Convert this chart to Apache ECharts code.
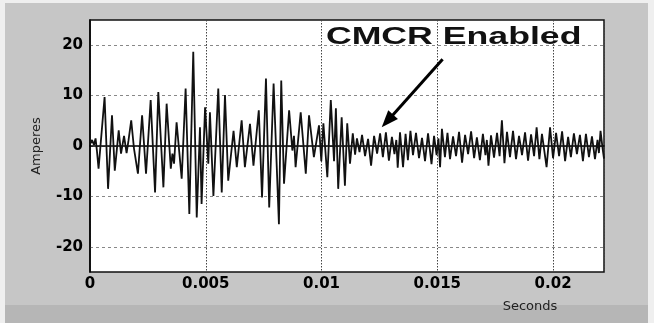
<!DOCTYPE html>
<html>
<head>
<meta charset="utf-8">
<script src="https://cdn.jsdelivr.net/npm/echarts@6/dist/echarts.min.js"></script>
<style>
  html, body { margin: 0; padding: 0; background: #c6c6c6; }
  #wrap { position: relative; width: 654px; height: 323px; background: #c6c6c6; overflow: hidden; }
  #wrap .edge { position: absolute; background: #efefef; }
  #wrap .band { position: absolute; left: 0; right: 0; top: 305px; bottom: 0; background: #b6b6b6; }
  #main { position: absolute; left: 0; top: 0; width: 654px; height: 323px; }
</style>
</head>
<body>
<div id="wrap">
  <div class="band"></div>
  <div class="edge" style="left:0;top:0;width:5px;height:323px"></div>
  <div class="edge" style="left:0;top:0;width:654px;height:3px"></div>
  <div class="edge" style="right:0;top:0;width:6px;height:323px"></div>
  <div id="main"></div>
</div>
<script>
// burst before CMCR kicks in (seconds / amperes, read peak by peak)
const timesBurst = [
  0, 0.00009, 0.00017, 0.00024, 0.00030, 0.00037, 0.00063, 0.00078, 0.00095, 0.00107,
  0.00124, 0.00134, 0.00147, 0.00158, 0.00166, 0.00178, 0.00190, 0.00207, 0.00225, 0.00242,
  0.00262, 0.00281, 0.00295, 0.00317, 0.00331, 0.00349, 0.00356, 0.00363, 0.00374, 0.00396,
  0.00413, 0.00429, 0.00446, 0.00461, 0.00475, 0.00482, 0.00497, 0.00511, 0.00518, 0.00533,
  0.00554, 0.00569, 0.00583, 0.00597, 0.00620, 0.00634, 0.00655, 0.00669, 0.00691, 0.00706,
  0.00729, 0.00743, 0.00760, 0.00774, 0.00793, 0.00816, 0.00826, 0.00838, 0.00860, 0.00874,
  0.00881, 0.00888, 0.00910, 0.00932, 0.00946, 0.00967, 0.00989, 0.00999, 0.01008, 0.01025,
  0.01040, 0.01054, 0.01062, 0.01072, 0.01087, 0.01101, 0.01111, 0.01123, 0.01135, 0.01145
]
const ampsBurst = [
  0.3, 1.2, 0.2, 1.5, -1.0, -4.5, 9.7, -8.5, 6.1, -4.9,
  3.1, -1.5, 2.0, -1.4, 1.0, 5.1, -0.5, -5.5, 6.1, -5.5,
  9.1, -9.2, 10.7, -8.2, 8.4, -4.5, -1.5, -3.5, 4.7, -6.5,
  11.4, -13.5, 18.7, -14.2, 3.7, -11.5, 7.7, -3.5, 6.7, -9.9,
  11.4, -9.2, 10.1, -6.9, 3.0, -4.2, 5.1, -4.2, 4.4, -3.9,
  7.1, -10.2, 13.4, -12.2, 12.4, -15.5, 13.0, -7.5, 7.1, -0.9,
  2.0, -4.2, 6.7, -5.5, 6.1, -2.2, 4.1, -3.0, 4.5, -6.2,
  9.1, -3.0, 7.5, -8.5, 5.7, -7.9, 4.5, -3.5, 2.5, -1.7
]
// residual after CMCR enabled
const timesQuiet = [
  0.01153, 0.01164, 0.01175, 0.01188, 0.01201, 0.01214, 0.01227, 0.01240, 0.01253, 0.01265,
  0.01278, 0.01291, 0.01304, 0.01315, 0.01323, 0.01329, 0.01339, 0.01352, 0.01363, 0.01373,
  0.01384, 0.01395, 0.01408, 0.01421, 0.01434, 0.01447, 0.01460, 0.01475, 0.01486, 0.01497,
  0.01505, 0.01512, 0.01520, 0.01533, 0.01544, 0.01555, 0.01568, 0.01581, 0.01594, 0.01607,
  0.01620, 0.01633, 0.01646, 0.01659, 0.01671, 0.01684, 0.01697, 0.01708, 0.01714, 0.01721,
  0.01732, 0.01745, 0.01758, 0.01769, 0.01779, 0.01790, 0.01801, 0.01814, 0.01827, 0.01840,
  0.01853, 0.01866, 0.01879, 0.01892, 0.01905, 0.01918, 0.01929, 0.01941, 0.01952, 0.01972,
  0.01987, 0.02000, 0.02013, 0.02026, 0.02039, 0.02052, 0.02065, 0.02077, 0.02090, 0.02103,
  0.02116, 0.02129, 0.02142, 0.02155, 0.02168, 0.02181, 0.02192, 0.02198, 0.02205, 0.02214,
  0.0222
]
const ampsQuiet = [
  1.5, -1.2, 2.2, -2.0, 1.4, -3.9, 2.0, -1.5, 2.5, -2.2,
  2.7, -2.9, 1.8, -1.6, 1.2, -4.3, 2.7, -4.2, 2.4, -2.8,
  3.0, -1.8, 2.6, -2.4, 1.6, -3.0, 2.5, -3.6, 2.0, -1.8,
  1.5, -4.2, 3.4, -2.2, 2.6, -2.6, 1.9, -2.0, 2.8, -3.3,
  2.2, -1.6, 2.9, -2.4, 1.7, -2.8, 2.4, -1.8, 1.2, -3.9,
  2.1, -2.3, 2.6, -2.0, 5.1, -3.4, 2.8, -2.2, 3.0, -2.6,
  2.0, -1.8, 2.7, -2.9, 2.3, -2.0, 3.7, -2.6, 2.4, -4.2,
  3.7, -2.4, 2.6, -2.0, 2.9, -3.0, 1.8, -2.2, 2.5, -1.6,
  2.2, -3.0, 2.4, -2.2, 1.9, -2.6, 1.2, -1.4, 3.0, -0.5,
  -2.5
]
const yTicks = [-20, -10, 0, 10, 20]
const xMax = 0.0222
const xStep = 0.005
const noteText = 'CMCR Enabled'
const noteAt = [0.01019, 21.4]
const arrowTail = [0.01523, 17.2]
const arrowTip = [0.01260, 3.7]

const times = timesBurst.concat(timesQuiet)
const amps = ampsBurst.concat(ampsQuiet)
const points = times.map((t, i) => [t, amps[i]])

const tickFont = { color: '#000', fontFamily: 'DejaVu Sans', fontWeight: 'bold', fontSize: 15 }

let myChart = echarts.init(document.getElementById('main'), null, { renderer: 'canvas' })
myChart.setOption({
  animation: false,
  grid: {
    left: 90, right: 50, top: 20, bottom: 51,
    show: true,
    backgroundColor: '#fff',
    borderColor: '#111',
    borderWidth: 1.5
  },
  xAxis: {
    type: 'value',
    min: 0,
    max: xMax,
    interval: xStep,
    axisLine: { lineStyle: { color: '#000', width: 1.5 } },
    axisTick: { show: false },
    axisLabel: Object.assign({
      margin: 5,
      formatter: function (v) {
        let k = v / xStep
        if (Math.abs(k - Math.round(k)) > 1e-6) return ''
        return String(+v.toFixed(4))
      }
    }, tickFont),
    splitLine: { lineStyle: { color: '#444', type: [1.5, 1.5], width: 1 } },
    name: 'Seconds',
    nameLocation: 'middle',
    nameGap: 28,
    nameTextStyle: { fontFamily: 'DejaVu Sans', fontSize: 13, color: '#222', padding: [0, 0, 0, 366] }
  },
  yAxis: {
    type: 'value',
    min: -25,
    max: 25,
    axisLine: { lineStyle: { color: '#000', width: 1.5 } },
    axisTick: { show: false, customValues: yTicks },
    axisLabel: Object.assign({ margin: 7, customValues: yTicks }, tickFont),
    splitLine: { lineStyle: { color: '#888', type: [3, 3], width: 1 } },
    name: 'Amperes',
    nameLocation: 'middle',
    nameGap: 47,
    nameTextStyle: { fontFamily: 'DejaVu Sans', fontSize: 13, color: '#222' }
  },
  series: [
    {
      type: 'line',
      data: points,
      showSymbol: false,
      lineStyle: { color: '#111', width: 1.8 }
    }
  ]
})

// 注释箭头
let tip = myChart.convertToPixel({ gridIndex: 0 }, arrowTip)
let tail = myChart.convertToPixel({ gridIndex: 0 }, arrowTail)
let note = myChart.convertToPixel({ gridIndex: 0 }, noteAt)
let dx = tip[0] - tail[0]
let dy = tip[1] - tail[1]
let len = Math.sqrt(dx * dx + dy * dy)
let ux = dx / len
let uy = dy / len
let headLen = 17
let headHalf = 6.5
let bx = tip[0] - ux * headLen
let by = tip[1] - uy * headLen
myChart.setOption({
  graphic: [
    {
      type: 'line',
      shape: { x1: tail[0], y1: tail[1], x2: bx + ux * 2, y2: by + uy * 2 },
      style: { stroke: '#000', lineWidth: 3 },
      z: 100
    },
    {
      type: 'polygon',
      shape: { points: [tip, [bx - uy * headHalf, by + ux * headHalf], [bx + uy * headHalf, by - ux * headHalf]] },
      style: { fill: '#000' },
      z: 100
    },
    {
      type: 'text',
      x: note[0],
      y: note[1],
      scaleX: 1.55,
      z: 100,
      style: {
        text: noteText,
        fill: '#111',
        font: 'bold 23px "Liberation Sans"',
        textAlign: 'left',
        textVerticalAlign: 'middle',
        align: 'left',
        verticalAlign: 'middle'
      }
    }
  ]
})
</script>
</body>
</html>
